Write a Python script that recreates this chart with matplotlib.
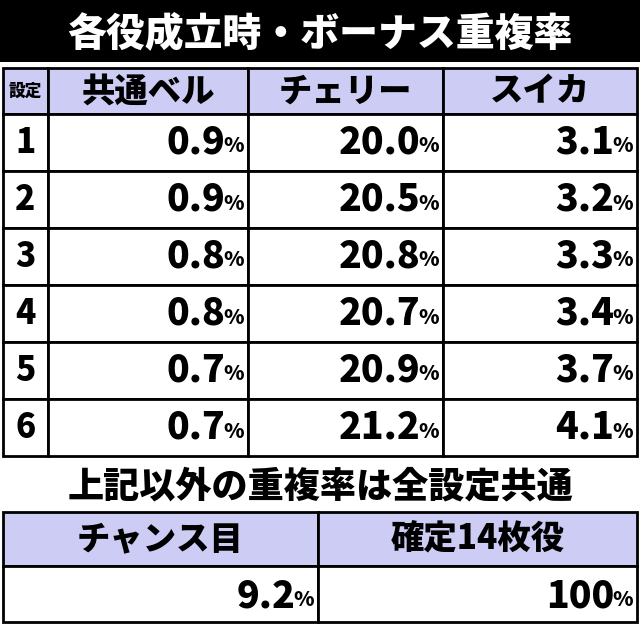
import matplotlib
matplotlib.use("Agg")
import matplotlib.pyplot as plt
from matplotlib.patches import Rectangle

plt.rcParams['font.family'] = ['Noto Sans CJK JP', 'DejaVu Sans']

title = "各役成立時・ボーナス重複率"
columns = ["共通ベル", "チェリー", "スイカ"]
settings = ["1", "2", "3", "4", "5", "6"]
bell = ["0.9", "0.9", "0.8", "0.8", "0.7", "0.7"]
cherry = ["20.0", "20.5", "20.8", "20.7", "20.9", "21.2"]
suika = ["3.1", "3.2", "3.3", "3.4", "3.7", "4.1"]
subtitle = "上記以外の重複率は全設定共通"
columns2 = ["チャンス目", "確定14枚役"]
values2 = ["9.2", "100"]

HDR = "#ccccf5"
W = 'heavy'
fig = plt.figure(figsize=(6.4, 6.25), dpi=100)
ax = fig.add_axes([0, 0, 1, 1])
ax.set_xlim(0, 640); ax.set_ylim(625, 0); ax.axis('off')

def cell(x0, y0, x1, y1, fc):
    ax.add_patch(Rectangle((x0, y0), x1-x0, y1-y0, fc=fc, ec='black', lw=2))

def pct(xr, yc, num, size=27):
    ax.text(xr-4, yc+4, "%", ha='right', va='center', fontsize=15, weight=W)
    ax.text(xr-23, yc, num, ha='right', va='center', fontsize=size, weight=W)

ax.add_patch(Rectangle((0, 0), 640, 62, fc='black', ec='none'))
ax.text(320, 33, title, ha='center', va='center', color='white', fontsize=28, weight=W)

xs = [3, 48, 248, 443, 637]
cell(xs[0], 68, xs[1], 114, HDR)
ax.text((xs[0]+xs[1])/2, 91, "設定", ha='center', va='center', fontsize=12, weight=W)
for i, c in enumerate(columns):
    cell(xs[i+1], 68, xs[i+2], 114, HDR)
    ax.text((xs[i+1]+xs[i+2])/2, 91, c, ha='center', va='center', fontsize=24, weight=W)

rh = 57
for r, s in enumerate(settings):
    y0 = 114 + r*rh; y1 = y0 + rh; yc = (y0+y1)/2
    for i in range(4):
        cell(xs[i], y0, xs[i+1], y1, 'white')
    ax.text((xs[0]+xs[1])/2, yc, s, ha='center', va='center', fontsize=24, weight=W)
    for i, v in enumerate([bell[r], cherry[r], suika[r]]):
        pct(xs[i+2], yc, v)

ax.text(320, 486, subtitle, ha='center', va='center', fontsize=26, weight=W)

xs2 = [3, 318, 637]
for i, c in enumerate(columns2):
    cell(xs2[i], 512, xs2[i+1], 566, HDR)
    ax.text((xs2[i]+xs2[i+1])/2, 539, c, ha='center', va='center', fontsize=24, weight=W)
    cell(xs2[i], 566, xs2[i+1], 622, 'white')
    pct(xs2[i+1], 596, values2[i])

fig.savefig("out.png", dpi=100)
